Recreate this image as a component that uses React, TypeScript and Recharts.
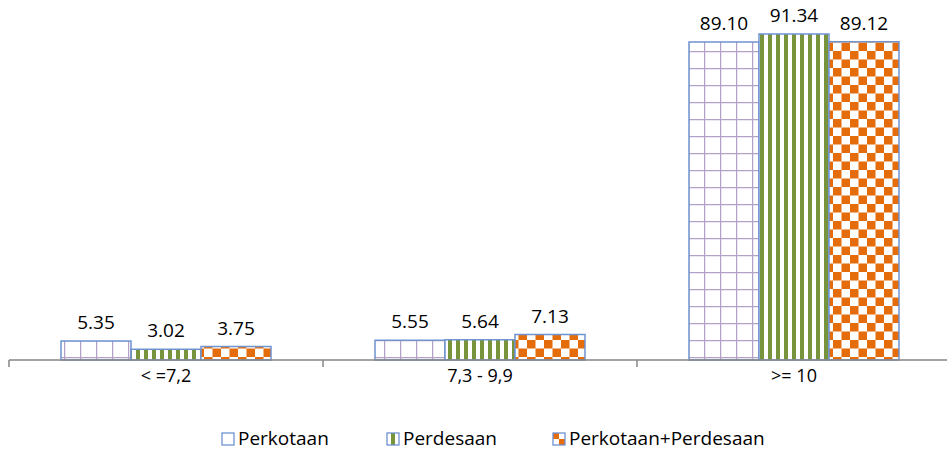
import { BarChart, Bar, XAxis, YAxis, LabelList } from "recharts";

const categories = ["< =7,2", "7,3 - 9,9", ">= 10"];
const perkotaan = [5.35, 5.55, 89.1];
const perdesaan = [3.02, 5.64, 91.34];
const gabungan = [3.75, 7.13, 89.12];
const seriesNames = ["Perkotaan", "Perdesaan", "Perkotaan+Perdesaan"];

const data = categories.map((c, i) => ({
  name: c,
  perkotaan: perkotaan[i],
  perdesaan: perdesaan[i],
  gabungan: gabungan[i],
}));

const FONT = "'Open Sans', 'Noto Sans', sans-serif";
const BORDER = "#6f93cf";
const W = 947;
const H = 451;
const M = { top: 3, right: -4, left: 9, bottom: 0 };
const band = (W - M.left - M.right) / categories.length;

function Patterns() {
  return (
    <svg width={0} height={0} style={{ position: "absolute" }}>
      <defs>
        <pattern id="pGrid" patternUnits="userSpaceOnUse" width={16} height={17}>
          <rect width={16} height={17} fill="#fff" />
          <line x1={0.5} y1={0} x2={0.5} y2={17} stroke="#b3a2c7" strokeWidth={1.5} />
          <line x1={0} y1={0.5} x2={16} y2={0.5} stroke="#b3a2c7" strokeWidth={1.5} />
        </pattern>
        <pattern id="pStripe" patternUnits="userSpaceOnUse" width={8} height={8}>
          <rect width={8} height={8} fill="#fff" />
          <rect x={0} width={4} height={8} fill="#77933c" />
        </pattern>
        <pattern id="pCheck" patternUnits="userSpaceOnUse" width={17} height={17}>
          <rect width={17} height={17} fill="#fff" />
          <rect x={0} y={0} width={8.5} height={8.5} fill="#e46c0a" />
          <rect x={8.5} y={8.5} width={8.5} height={8.5} fill="#e46c0a" />
        </pattern>
        <pattern id="lGrid" patternUnits="objectBoundingBox" width={1} height={1}>
          <rect width={12} height={12} fill="#fff" />
        </pattern>
        <pattern id="lStripe" patternUnits="objectBoundingBox" width={1} height={1}>
          <rect width={12} height={12} fill="#fff" />
          <rect x={4} width={4} height={12} fill="#77933c" />
        </pattern>
        <pattern id="lCheck" patternUnits="objectBoundingBox" width={1} height={1}>
          <rect width={12} height={12} fill="#fff" />
          <rect x={0} y={0} width={6} height={6} fill="#e46c0a" />
          <rect x={6} y={6} width={6} height={6} fill="#e46c0a" />
        </pattern>
      </defs>
    </svg>
  );
}

function CategoryTick(props: any) {
  const { x, y, payload } = props;
  const half = band / 2;
  return (
    <g>
      <line x1={x - half} y1={y - 8} x2={x - half} y2={y - 1} stroke="#868686" strokeWidth={1.5} />
      <text x={x} y={y + 14} textAnchor="middle" fontSize={18} fontFamily={FONT} fill="#000">
        {payload.value}
      </text>
    </g>
  );
}

const legendFills = ["url(#lGrid)", "url(#lStripe)", "url(#lCheck)"];
const legendX = [222, 387, 553];
const labelStyle = { fontSize: 19, fontFamily: FONT, fill: "#000" };
const fmt = (v: any) => Number(v).toFixed(2);

export default function App() {
  return (
    <div style={{ position: "absolute", left: 0, top: 0, width: W, height: H, background: "#fff", overflow: "hidden" }}>
      <Patterns />
      <BarChart width={W} height={H - 51} data={data} margin={M} barGap={0} barCategoryGap={52}>
        <XAxis
          dataKey="name"
          axisLine={{ stroke: "#868686", strokeWidth: 1.5 }}
          tickLine={false}
          tick={<CategoryTick />}
          height={40}
          interval={0}
        />
        <YAxis hide domain={[0, 100]} />
        <Bar dataKey="perkotaan" fill="url(#pGrid)" stroke={BORDER} strokeWidth={1.5} isAnimationActive={false}>
          <LabelList dataKey="perkotaan" position="top" offset={12} formatter={fmt} style={labelStyle} />
        </Bar>
        <Bar dataKey="perdesaan" fill="url(#pStripe)" stroke={BORDER} strokeWidth={1.5} isAnimationActive={false}>
          <LabelList dataKey="perdesaan" position="top" offset={12} formatter={fmt} style={labelStyle} />
        </Bar>
        <Bar dataKey="gabungan" fill="url(#pCheck)" stroke={BORDER} strokeWidth={1.5} isAnimationActive={false}>
          <LabelList dataKey="gabungan" position="top" offset={12} formatter={fmt} style={labelStyle} />
        </Bar>
      </BarChart>
      <svg width={W} height={51} style={{ display: "block" }}>
        {seriesNames.map((n, i) => (
          <g key={n}>
            <rect x={legendX[i]} y={33} width={12} height={12} fill={legendFills[i]} stroke={BORDER} strokeWidth={1.3} />
            <text x={legendX[i] + 16} y={45} fontSize={19} fontFamily={FONT} fill="#000">
              {n}
            </text>
          </g>
        ))}
      </svg>
    </div>
  );
}
